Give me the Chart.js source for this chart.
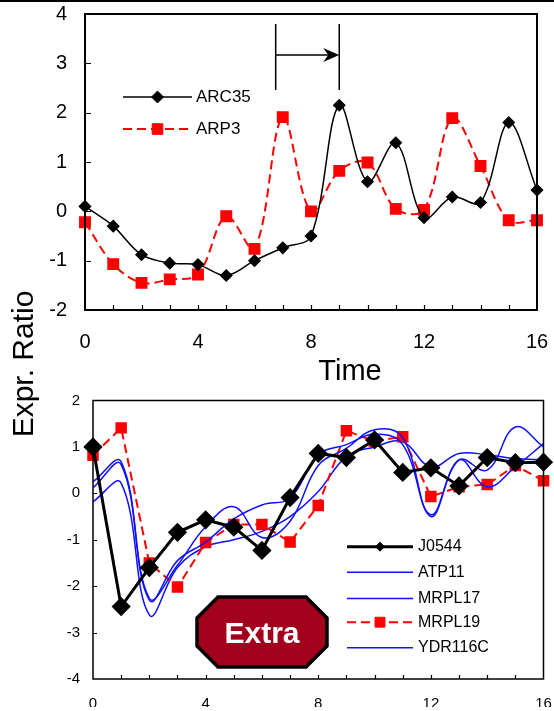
<!DOCTYPE html>
<html>
<head>
<meta charset="utf-8">
<script src="https://cdn.jsdelivr.net/npm/chart.js@4.4.0/dist/chart.umd.min.js"></script>
<style>
  html, body { margin: 0; padding: 0; background: #fff; }
  #wrap { position: relative; width: 554px; height: 711px; overflow: hidden; }
  #top { position: absolute; left: 0; top: 0; }
  #bottom { position: absolute; left: 0; top: 390px; }
</style>
</head>
<body>
<div id="wrap">
  <canvas id="top" width="554" height="711"></canvas>
  <canvas id="bottom" width="554" height="321"></canvas>
</div>
<script>
// time points shared by both panels
const times = [0, 1, 2, 3, 4, 5, 6, 7, 8, 9, 10, 11, 12, 13, 14, 15, 16];

// top panel
const arc35 = [0.1, -0.3, -0.88, -1.05, -1.08, -1.3, -1.0, -0.74, -0.5, 2.15, 0.6, 1.39, -0.13, 0.29, 0.18, 1.8, 0.43];
const arp3 = [-0.22, -1.07, -1.45, -1.38, -1.28, -0.1, -0.76, 1.91, 0.0, 0.82, 0.99, 0.05, 0.03, 1.89, 0.92, -0.18, -0.18];

// bottom panel
const j0544 = [1.0, -2.44, -1.6, -0.84, -0.57, -0.73, -1.23, -0.09, 0.86, 0.77, 1.15, 0.45, 0.55, 0.16, 0.77, 0.66, 0.67];
const atp11 = [0.25, 0.68, -2.26, -1.55, -0.72, -0.29, -0.95, -0.6, 0.6, 0.97, 1.37, 1.2, -0.5, 0.72, 0.14, 0.57, 1.07];
const mrpl17 = [0.12, 0.62, -2.3, -1.45, -1.05, -0.55, -0.25, -0.1, 0.83, 1.05, 1.28, 1.05, -0.46, 0.72, 0.5, 1.43, 1.0];
const mrpl19 = [0.82, 1.41, -1.5, -2.02, -1.06, -0.67, -0.67, -1.05, -0.26, 1.35, 1.12, 1.22, -0.07, 0.14, 0.19, 0.6, 0.27];
const ydr116c = [-0.18, 0.22, -2.62, -1.6, -1.15, -1.0, -0.82, -0.5, 0.04, 0.79, 1.0, 1.11, 0.57, 0.86, 0.83, 0.75, 0.72];

const xLabelEvery = 4;
const arrowFrom = 6.75, arrowTo = 9;

const FONT = '"Liberation Sans", Arial, sans-serif';
const pts = arr => times.map((t, i) => ({ x: t, y: arr[i] }));

// box round the plot and inward ticks
const frameTicks = {
  id: 'frameTicks',
  afterDraw(chart, args, o) {
    const { ctx, chartArea: a, scales: { x, y } } = chart;
    ctx.save();
    ctx.strokeStyle = '#000';
    ctx.lineWidth = o.lw;
    ctx.strokeRect(a.left, a.top, a.right - a.left, a.bottom - a.top);
    ctx.lineWidth = 1.2;
    ctx.beginPath();
    for (let t = x.min + 1; t < x.max; t++) {
      const px = Math.round(x.getPixelForValue(t)) + 0.5;
      ctx.moveTo(px, a.bottom);
      ctx.lineTo(px, a.bottom - o.xLen);
    }
    for (let v = y.min + 1; v < y.max; v++) {
      const py = Math.round(y.getPixelForValue(v)) + 0.5;
      ctx.moveTo(a.left, py);
      ctx.lineTo(a.left + o.yLen, py);
    }
    ctx.stroke();
    ctx.restore();
  }
};

// legend drawn inside the plot
const legendBox = {
  id: 'legendBox',
  afterDraw(chart, args, o) {
    const ctx = chart.ctx;
    ctx.save();
    ctx.font = o.font;
    ctx.textBaseline = 'middle';
    o.rows.forEach((y, i) => {
      const ds = chart.data.datasets[i];
      ctx.strokeStyle = ds.borderColor;
      ctx.lineWidth = ds.borderWidth;
      ctx.setLineDash(ds.borderDash || []);
      ctx.beginPath();
      ctx.moveTo(o.x0, y);
      ctx.lineTo(o.x1, y);
      ctx.stroke();
      ctx.setLineDash([]);
      if (ds.pointRadius > 0) {
        ctx.fillStyle = ds.pointBackgroundColor;
        ctx.strokeStyle = ds.pointBorderColor;
        ctx.lineWidth = 1;
        Chart.helpers.drawPoint(ctx, { pointStyle: ds.pointStyle, radius: o.r[i], borderWidth: 1 }, (o.x0 + o.x1) / 2, y);
      }
      ctx.fillStyle = '#000';
      ctx.fillText(ds.label, o.tx, y);
    });
    ctx.restore();
  }
};

// extras for the top panel: arrow, axis titles, top rule
const topExtras = {
  id: 'topExtras',
  afterDraw(chart) {
    const { ctx, scales: { x } } = chart;
    const x1 = x.getPixelForValue(arrowFrom), x2 = x.getPixelForValue(arrowTo);
    ctx.save();
    ctx.fillStyle = '#000';
    ctx.fillRect(0, 0, 554, 2);
    ctx.strokeStyle = '#000';
    ctx.lineWidth = 1.5;
    ctx.beginPath();
    ctx.moveTo(x1, 24); ctx.lineTo(x1, 90);
    ctx.moveTo(x2, 24); ctx.lineTo(x2, 90);
    ctx.moveTo(x1, 55); ctx.lineTo(x2 - 10, 55);
    ctx.stroke();
    ctx.beginPath();
    ctx.moveTo(x2, 55);
    ctx.lineTo(x2 - 16, 48);
    ctx.lineTo(x2 - 11, 55);
    ctx.lineTo(x2 - 16, 62);
    ctx.closePath();
    ctx.fill();

    ctx.font = '29px ' + FONT;
    ctx.textAlign = 'center';
    ctx.textBaseline = 'middle';
    ctx.fillText('Time', 350, 372);

    ctx.translate(33, 364);
    ctx.rotate(-Math.PI / 2);
    ctx.font = '30px ' + FONT;
    ctx.textBaseline = 'alphabetic';
    ctx.fillText('Expr. Ratio', 0, 0);
    ctx.restore();
  }
};

// "Extra" badge on the bottom panel
const badge = {
  id: 'badge',
  afterDraw(chart) {
    const ctx = chart.ctx;
    const l = 197, r = 327, t = 207, b = 277, c = 21;
    ctx.save();
    ctx.beginPath();
    ctx.moveTo(l + c, t); ctx.lineTo(r - c, t); ctx.lineTo(r, t + c); ctx.lineTo(r, b - c);
    ctx.lineTo(r - c, b); ctx.lineTo(l + c, b); ctx.lineTo(l, b - c); ctx.lineTo(l, t + c);
    ctx.closePath();
    ctx.fillStyle = '#a3001e';
    ctx.fill();
    ctx.lineWidth = 3.5;
    ctx.strokeStyle = '#000';
    ctx.stroke();
    ctx.fillStyle = '#fff';
    ctx.font = 'bold 30px ' + FONT;
    ctx.textAlign = 'center';
    ctx.textBaseline = 'alphabetic';
    ctx.fillText('Extra', 262, 253);
    ctx.restore();
  }
};

function scalesFor(ymin, ymax, fontSize, yPad, xPad, yWidth, xHeight) {
  return {
    x: {
      type: 'linear', min: 0, max: 16,
      grid: { display: false, drawTicks: false },
      border: { display: false },
      afterFit: s => { s.height = xHeight; s.paddingLeft = 0; s.paddingRight = 0; },
      ticks: {
        stepSize: 1, padding: xPad, color: '#000', maxRotation: 0, autoSkip: false,
        font: { family: FONT, size: fontSize },
        callback: v => (v % xLabelEvery === 0 ? v : '')
      }
    },
    y: {
      min: ymin, max: ymax,
      grid: { display: false, drawTicks: false },
      border: { display: false },
      afterFit: s => { s.width = yWidth; s.paddingTop = 0; s.paddingBottom = 0; },
      ticks: { stepSize: 1, padding: yPad, color: '#000', font: { family: FONT, size: fontSize } }
    }
  };
}

new Chart(document.getElementById('top'), {
  type: 'line',
  data: {
    datasets: [
      {
        label: 'ARC35', data: pts(arc35),
        borderColor: '#000', borderWidth: 1.5, tension: 0.35,
        pointStyle: 'rectRot', pointRadius: 5.5, pointBackgroundColor: '#000', pointBorderColor: '#000',
        clip: false
      },
      {
        label: 'ARP3', data: pts(arp3),
        borderColor: '#ff0000', borderWidth: 2, borderDash: [9, 5], tension: 0.35,
        pointStyle: 'rect', pointRadius: 7, pointBackgroundColor: '#ff0000', pointBorderColor: '#ff0000',
        clip: false
      }
    ]
  },
  options: {
    responsive: false, animation: false,
    layout: { padding: { left: 0, top: 14, right: 17, bottom: 361 } },
    scales: scalesFor(-2, 4, 20, 18, 20, 85, 40),
    plugins: {
      legend: { display: false },
      tooltip: { enabled: false },
      frameTicks: { lw: 2, xLen: 5, yLen: 6 },
      legendBox: { rows: [97, 129], x0: 123, x1: 192, tx: 196, font: '17px ' + FONT, r: [6, 7.5] }
    }
  },
  plugins: [frameTicks, legendBox, topExtras]
});

const blueLine = (label, arr) => ({
  label, data: pts(arr),
  borderColor: '#1010ff', borderWidth: 1.5, tension: 0.4, pointRadius: 0
});

new Chart(document.getElementById('bottom'), {
  type: 'line',
  data: {
    datasets: [
      {
        label: 'J0544', data: pts(j0544),
        borderColor: '#000', borderWidth: 3, tension: 0,
        pointStyle: 'rectRot', pointRadius: 7.5, pointBackgroundColor: '#000', pointBorderColor: '#000',
        clip: false
      },
      blueLine('ATP11', atp11),
      blueLine('MRPL17', mrpl17),
      {
        label: 'MRPL19', data: pts(mrpl19),
        borderColor: '#ff0000', borderWidth: 2, borderDash: [9, 5], tension: 0,
        pointStyle: 'rect', pointRadius: 6.7, pointBackgroundColor: '#ff0000', pointBorderColor: '#ff0000',
        clip: false
      },
      blueLine('YDR116C', ydr116c)
    ]
  },
  options: {
    responsive: false, animation: false,
    layout: { padding: { left: 0, top: 10, right: 8, bottom: 4 } },
    scales: scalesFor(-4, 2, 15, 13, 16, 93, 28),
    plugins: {
      legend: { display: false },
      tooltip: { enabled: false },
      frameTicks: { lw: 1.5, xLen: 4, yLen: 4 },
      legendBox: { rows: [156.7, 182.3, 208.5, 232.2, 257.8], x0: 347, x1: 413, tx: 418, font: '16px ' + FONT, r: [4.5, 0, 0, 7, 0] }
    }
  },
  plugins: [frameTicks, legendBox, badge]
});
</script>
</body>
</html>
